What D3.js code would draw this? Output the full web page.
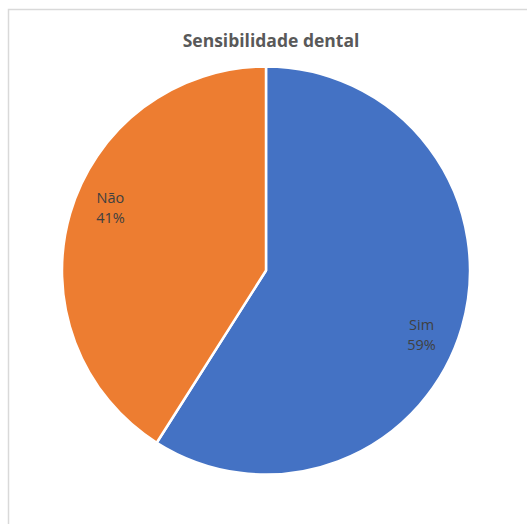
<!DOCTYPE html>
<html><head><meta charset="utf-8">
<script src="https://cdn.jsdelivr.net/npm/d3@7"></script>
<style>body{margin:0;background:#fff;}svg{display:block;}</style>
</head><body>
<svg id="c" width="527" height="524"></svg>
<script>
const title = "Sensibilidade dental";
const categories = ["Sim", "Não"];
const values = [59, 41];
const colors = ["#4472C4", "#ED7D31"];

const svg = d3.select("#c");
svg.append("rect").attr("x", 8.5).attr("y", 9.5).attr("width", 530).attr("height", 530)
  .attr("fill", "#fff").attr("stroke", "#d9d9d9").attr("stroke-width", 1.5);

svg.append("text").attr("x", 271).attr("y", 47).attr("text-anchor", "middle")
  .attr("font-family", "Open Sans, sans-serif").attr("font-weight", "bold")
  .attr("font-size", 17.5).attr("fill", "#595959").text(title);

const cx = 266, cy = 270.5, r = 204;
const pie = d3.pie().sort(null).value(d => d)(values);
const arc = d3.arc().innerRadius(0).outerRadius(r);
const g = svg.append("g").attr("transform", `translate(${cx},${cy})`);
g.selectAll("path").data(pie).join("path")
  .attr("d", arc).attr("fill", (d, i) => colors[i])
  .attr("stroke", "#fff").attr("stroke-width", 2.5).attr("stroke-linejoin", "round");

const total = d3.sum(values);
const lr = 168, off = 6 * Math.PI / 180;
pie.forEach((d, i) => {
  const a = (d.startAngle + d.endAngle) / 2 + off;
  const x = lr * Math.sin(a), y = -lr * Math.cos(a);
  const t = g.append("text").attr("text-anchor", "middle")
    .attr("font-family", "Open Sans, sans-serif").attr("font-size", 14.5).attr("fill", "#404040");
  t.append("tspan").attr("x", x).attr("y", y - 4).text(categories[i]);
  t.append("tspan").attr("x", x).attr("y", y + 16).text(Math.round(values[i] / total * 100) + "%");
});
</script>
</body></html>
